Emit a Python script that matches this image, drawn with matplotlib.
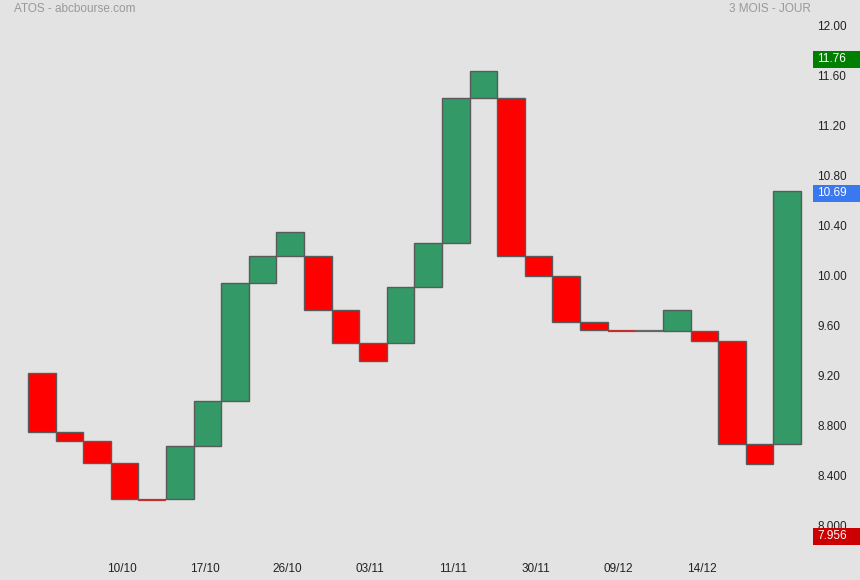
import matplotlib.pyplot as plt
from matplotlib.patches import Rectangle

# === DATA (daily open / close) ===
opens = [9.232, 8.760, 8.688, 8.512, 8.224, 8.224, 8.650, 9.008, 9.952, 10.168,
         10.168, 9.736, 9.472, 9.472, 9.920, 10.272, 11.432, 11.432, 10.168, 10.008,
         9.640, 9.576, 9.568, 9.568, 9.568, 9.488, 8.664, 8.664]
closes = [8.760, 8.688, 8.512, 8.224, 8.216, 8.650, 9.008, 9.952, 10.168, 10.360,
          9.736, 9.472, 9.328, 9.920, 10.272, 11.432, 11.648, 10.168, 10.008, 9.640,
          9.576, 9.566, 9.568, 9.736, 9.488, 8.664, 8.504, 10.690]
date_pos = [3, 6, 9, 12, 15, 18, 21, 24]
date_labels = ["10/10", "17/10", "26/10", "03/11", "11/11", "30/11", "09/12", "14/12"]
ytick_vals = [12.0, 11.6, 11.2, 10.8, 10.4, 10.0, 9.6, 9.2, 8.8, 8.4, 8.0]
ytick_labels = ["12.00", "11.60", "11.20", "10.80", "10.40", "10.00", "9.60", "9.20",
                "8.800", "8.400", "8.000"]
period_high = 11.76
period_low = 7.956
last_close = closes[-1]

plt.rcParams["font.family"] = ["Liberation Sans", "DejaVu Sans"]
bg = "#e3e3e3"
fs = 8.5

fig = plt.figure(figsize=(8.6, 5.8), dpi=100, facecolor=bg)
ax = fig.add_axes([0, 0, 1, 1], facecolor=bg)
ax.set_xlim(-1.014, 30.14)
ax.set_ylim(7.576, 12.216)
ax.axis("off")

# === BOXES ===
for i, (o, c) in enumerate(zip(opens, closes)):
    h = abs(c - o)
    if c > o:
        color, edge = "#339966", "#5a5a5a"
    elif c < o:
        color, edge = "#ff0000", "#5a5a5a"
    else:
        color, edge = "#666666", "#666666"
    if h < 0.02:
        if c < o:
            edge = "#bb3333"
        ax.plot([i, i + 1], [min(o, c), min(o, c)], color=edge, lw=1.6,
                solid_capstyle="butt")
        continue
    ax.bar(i, h, bottom=min(o, c), width=1.0, align="edge", color=color,
           edgecolor=edge, linewidth=1)

# === Y LABELS (right side) ===
for v, lab in zip(ytick_vals, ytick_labels):
    ax.text(28.59, v, lab, fontsize=fs, color="#222222", va="center", ha="left")

def price_tag(v, txt, fc):
    ax.add_patch(Rectangle((28.44, v - 0.068), 2.0, 0.136, facecolor=fc,
                           edgecolor="none", zorder=5))
    ax.text(28.59, v, txt, fontsize=fs, color="white", va="center", ha="left", zorder=6)

price_tag(period_high - 0.02, "11.76", "#008000")
price_tag(last_close - 0.02, "10.69", "#3a78f0")
price_tag(period_low - 0.03, "7.956", "#cc0000")

# === DATE LABELS ===
for p, lab in zip(date_pos, date_labels):
    ax.text(p + 0.4, 7.665, lab, fontsize=fs, color="#222222", ha="center", va="center")

# === TITLES ===
ax.text(-0.51, 12.145, "ATOS - abcbourse.com", fontsize=fs, color="#999999", va="center")
ax.text(28.37, 12.145, "3 MOIS - JOUR", fontsize=fs, color="#999999", va="center", ha="right")

fig.savefig("out.png", dpi=100, facecolor=bg)
